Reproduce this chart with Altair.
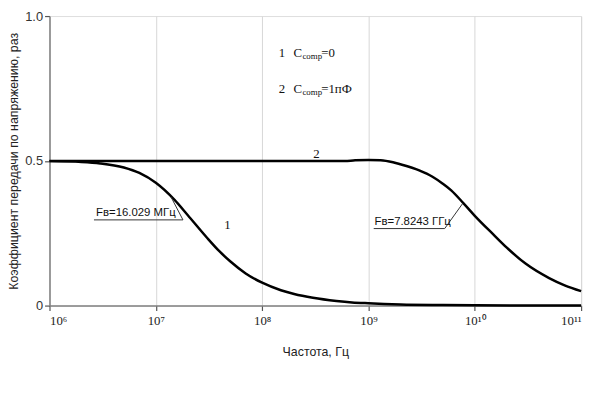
import altair as alt
import pandas as pd

# Curve 1: C_comp = 0
freq1 = [1e6, 2e6, 3e6, 5e6, 7e6, 1e7, 1.5e7, 2e7, 3e7, 4e7, 5e7, 7e7, 1e8,
         1.5e8, 2e8, 3e8, 5e8, 7e8, 1e9, 2e9, 5e9, 1e10, 1e11]
k1 = [0.499, 0.496, 0.491, 0.477, 0.458, 0.424, 0.365, 0.312, 0.236, 0.186,
      0.153, 0.111, 0.079, 0.053, 0.040, 0.027, 0.016, 0.011, 0.008, 0.004,
      0.002, 0.001, 0.0]

# Curve 2: C_comp = 1 pF
freq2 = [1e6, 1e7, 1e8, 6e8, 7.5e8, 1e9, 1.3e9, 1.7e9, 2e9, 3e9, 4e9, 5e9,
         6e9, 7.8e9, 1e10, 1.5e10, 2e10, 3e10, 5e10, 7e10, 1e11]
k2 = [0.499, 0.499, 0.499, 0.499, 0.502, 0.503, 0.502, 0.495, 0.488, 0.467,
      0.445, 0.421, 0.398, 0.354, 0.310, 0.245, 0.200, 0.145, 0.095, 0.070,
      0.050]

x_ticks = [1e6, 1e7, 1e8, 1e9, 1e10, 1e11]
y_ticks = [0, 0.5, 1.0]

# annotation leaders (underline + pointer to the curve)
lead1_f = [2.62e6, 1.80e7, 1.39e7]
lead1_k = [0.296, 0.296, 0.375]
lead2_f = [1.12e9, 5.21e9, 7.67e9]
lead2_k = [0.266, 0.266, 0.352]

ann_text = ["Fв=16.029 МГц", "Fв=7.8243 ГГц"]
ann_f = [2.74e6, 1.14e9]
ann_k = [0.310, 0.279]

curve_lab = ["1", "2"]
curve_lab_f = [4.71e7, 3.24e8]
curve_lab_k = [0.279, 0.525]

leg_num = ["1", "2"]
leg_rest = ["=0", "=1пФ"]
leg_f = [1.43e8, 1.43e8]
leg_k = [0.872, 0.747]

df1 = pd.DataFrame({"f": freq1, "k": k1})
df2 = pd.DataFrame({"f": freq2, "k": k2})
dl1 = pd.DataFrame({"f": lead1_f, "k": lead1_k, "o": [0, 1, 2]})
dl2 = pd.DataFrame({"f": lead2_f, "k": lead2_k, "o": [0, 1, 2]})
dann = pd.DataFrame({"f": ann_f, "k": ann_k, "t": ann_text})
dcl = pd.DataFrame({"f": curve_lab_f, "k": curve_lab_k, "t": curve_lab})
dleg = pd.DataFrame({"f": leg_f, "k": leg_k, "n": leg_num, "r": leg_rest})

superscripts = "{'1000000':'10⁶','10000000':'10⁷','100000000':'10⁸','1000000000':'10⁹','10000000000':'10¹⁰','100000000000':'10¹¹'}"

xs = alt.X("f:Q", scale=alt.Scale(type="log", domain=[1e6, 1e11], nice=False),
           axis=alt.Axis(values=x_ticks, title="Частота, Гц",
                         labelExpr=superscripts + "[datum.value]",
                         labelFont="Liberation Serif", labelFontSize=13,
                         labelColor="#222", labelPadding=4,
                         titleFont="Liberation Sans", titleFontSize=12.5,
                         titleFontWeight="normal", titleColor="#222",
                         titlePadding=19,
                         grid=True, gridColor="#d6d6d6", gridWidth=1,
                         tickColor="#555", tickSize=5, tickWidth=1.2,
                         domainColor="#808080", domainWidth=1.5))
ys = alt.Y("k:Q", scale=alt.Scale(domain=[0, 1], nice=False),
           axis=alt.Axis(values=y_ticks,
                         title="Коэффициент передачи по напряжению, раз",
                         labelExpr="datum.value == 0 ? '0' : format(datum.value, '.1f')",
                         labelFont="Liberation Sans", labelFontSize=13,
                         labelColor="#333", labelPadding=2,
                         titleFont="Liberation Sans", titleFontSize=12.5,
                         titleFontWeight="normal", titleColor="#222",
                         titlePadding=4, grid=False,
                         tickColor="#555", tickSize=5, tickWidth=1.2,
                         domainColor="#808080", domainWidth=1.5))

c1 = alt.Chart(df1).mark_line(color="black", strokeWidth=2.5, interpolate="monotone").encode(x=xs, y=ys)
c2 = alt.Chart(df2).mark_line(color="black", strokeWidth=2.5, interpolate="monotone").encode(x="f:Q", y="k:Q")
l1 = alt.Chart(dl1).mark_line(color="#333", strokeWidth=1).encode(x="f:Q", y="k:Q", order="o:Q")
l2 = alt.Chart(dl2).mark_line(color="#333", strokeWidth=1).encode(x="f:Q", y="k:Q", order="o:Q")
ta = alt.Chart(dann).mark_text(align="left", baseline="alphabetic", font="Liberation Sans",
                               fontSize=11.5, color="#111").encode(x="f:Q", y="k:Q", text="t:N")
tc = alt.Chart(dcl).mark_text(align="center", baseline="middle", font="Liberation Serif",
                              fontSize=13, color="#111").encode(x="f:Q", y="k:Q", text="t:N")
g_num = alt.Chart(dleg).mark_text(align="left", baseline="middle", font="Liberation Serif",
                                  fontSize=13, color="#111").encode(x="f:Q", y="k:Q", text="n:N")
g_c = alt.Chart(dleg).mark_text(align="left", baseline="middle", font="Liberation Serif",
                                fontSize=13, color="#111", dx=15).encode(x="f:Q", y="k:Q", text=alt.value("C"))
g_sub = alt.Chart(dleg).mark_text(align="left", baseline="middle", font="Liberation Serif",
                                  fontSize=9, color="#111", dx=24, dy=3).encode(x="f:Q", y="k:Q", text=alt.value("comp"))
g_rest = alt.Chart(dleg).mark_text(align="left", baseline="middle", font="Liberation Serif",
                                   fontSize=13, color="#111", dx=43).encode(x="f:Q", y="k:Q", text="r:N")

chart = alt.layer(c1, c2, l1, l2, ta, tc, g_num, g_c, g_sub, g_rest).properties(
    width=538, height=293,
    autosize=alt.AutoSizeParams(type="none"),
    padding={"left": 42, "top": 6, "right": 10, "bottom": 60},
).configure_view(stroke="#808080", strokeWidth=1.5).configure(background="white")

chart.save("out.html", embed_options={"renderer": "svg", "actions": False})
